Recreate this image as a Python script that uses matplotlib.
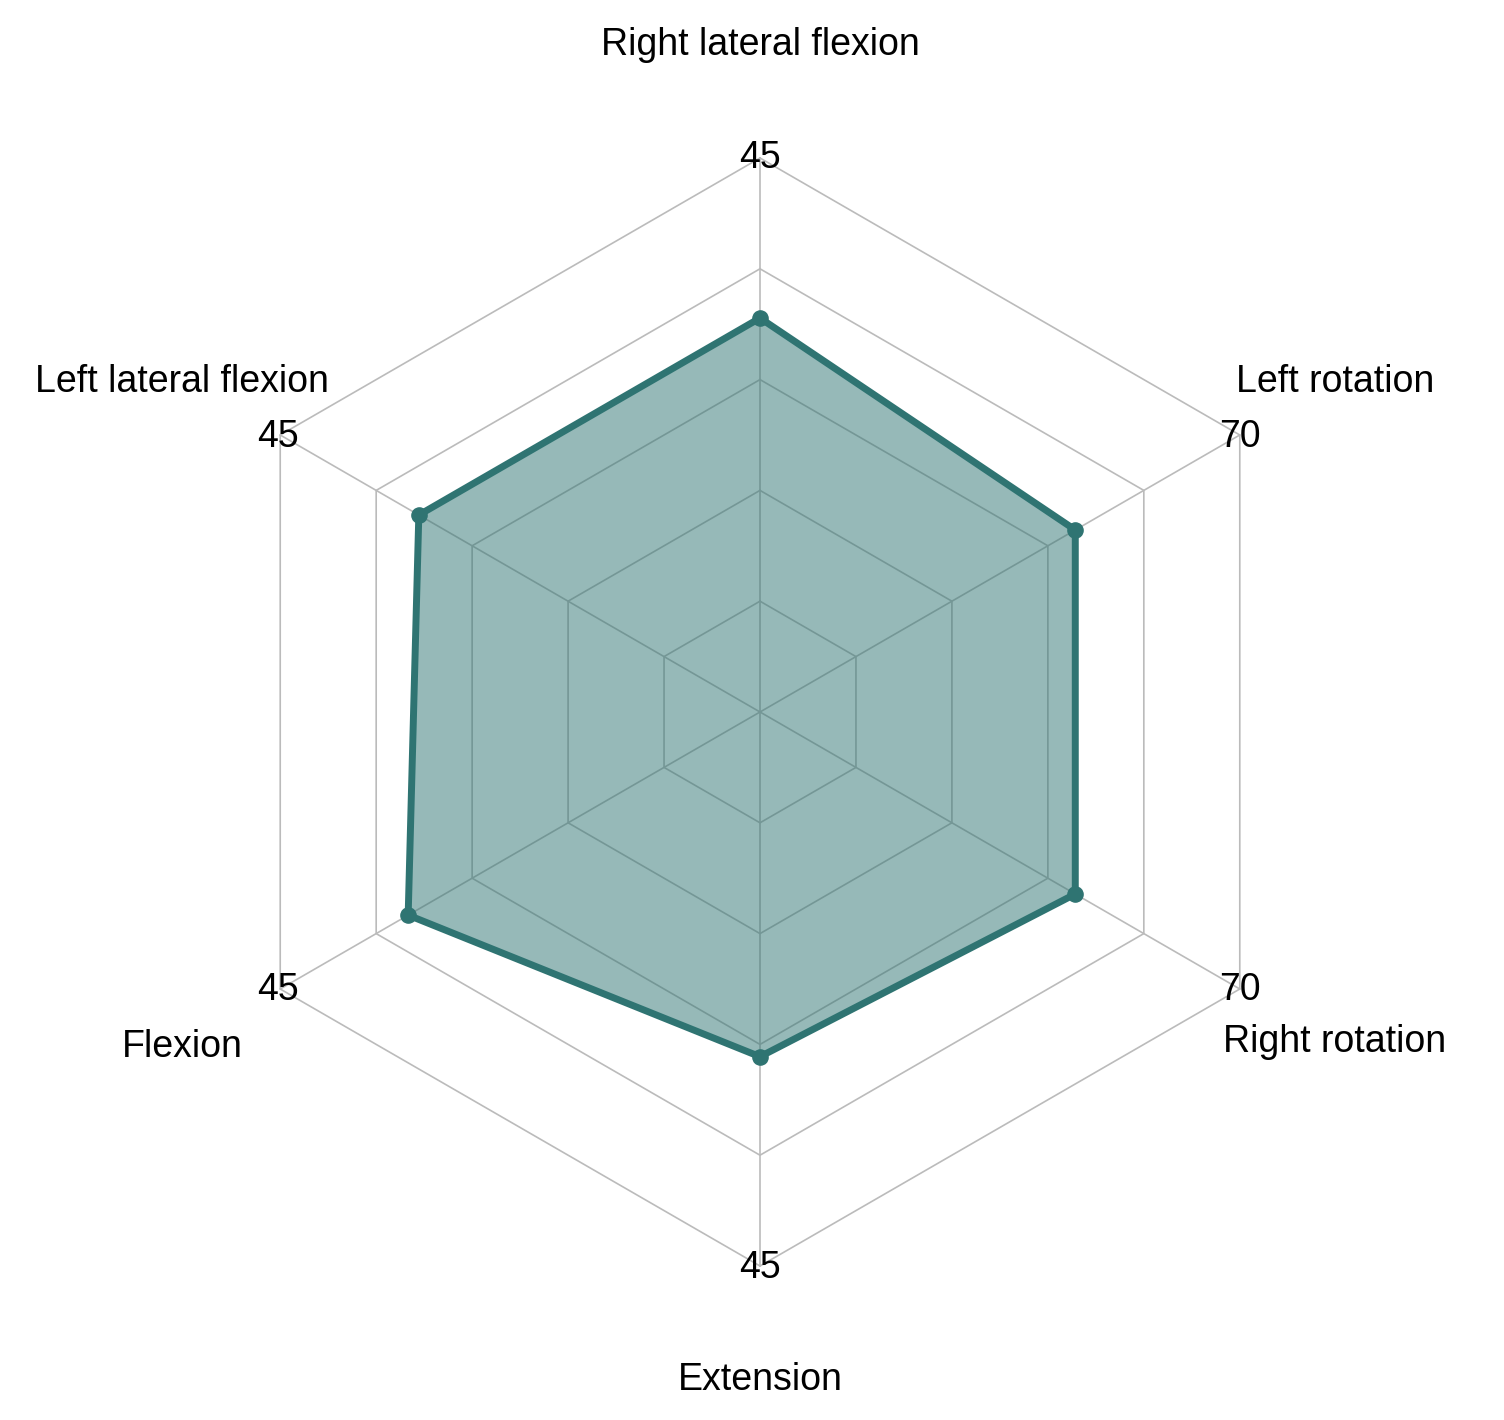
import numpy as np
import matplotlib.pyplot as plt

categories = ['Right lateral flexion', 'Left rotation', 'Right rotation',
              'Extension', 'Flexion', 'Left lateral flexion']
max_values = [45, 70, 70, 45, 45, 45]
values = [32, 46, 46, 28, 33, 32]

plt.rcParams['font.family'] = ['Liberation Sans', 'DejaVu Sans']

fig = plt.figure(figsize=(15.04, 14.2), dpi=100)
ax = fig.add_axes([0, 0, 1, 1])
R = 554.0
cx, cy = 760.0, 712.0
ax.set_xlim(-cx / R, (1504 - cx) / R)
ax.set_ylim(-(1420 - cy) / R, cy / R)
ax.axis('off')

n = len(categories)
ang = np.pi / 2 - np.arange(n) * 2 * np.pi / n
ux, uy = np.cos(ang), np.sin(ang)

# hexagon grid
for k in range(1, 6):
    r = k / 5
    ax.plot(np.append(ux, ux[0]) * r, np.append(uy, uy[0]) * r,
            color='#bbbbbb', lw=1.2, zorder=1)
for i in range(n):
    ax.plot([0, ux[i]], [0, uy[i]], color='#bbbbbb', lw=1.2, zorder=1)

# data
frac = np.array(values) / np.array(max_values)
px, py = ux * frac, uy * frac
ax.fill(px, py, color='#2f7472', alpha=0.5, lw=0, zorder=2)
ax.plot(np.append(px, px[0]), np.append(py, py[0]), color='#2f7472',
        lw=5, zorder=3)
ax.scatter(px, py, s=120, color='#2f7472', zorder=4)

# labels (pixel positions)
max_pos = [(760, 158), (1240, 437), (1240, 990), (760, 1268), (278, 990), (278, 437)]
lab_pos = [(760, 45), (1335, 382), (1335, 1042), (760, 1380), (182, 1047), (182, 382)]
for i in range(n):
    mx, my = max_pos[i]
    ax.text((mx - cx) / R, (cy - my) / R, str(max_values[i]), fontsize=27,
            ha='center', va='center', zorder=5)
    lx, ly = lab_pos[i]
    ax.text((lx - cx) / R, (cy - ly) / R, categories[i], fontsize=27,
            ha='center', va='center', zorder=5)

fig.savefig('out.png', dpi=100, facecolor='white')
